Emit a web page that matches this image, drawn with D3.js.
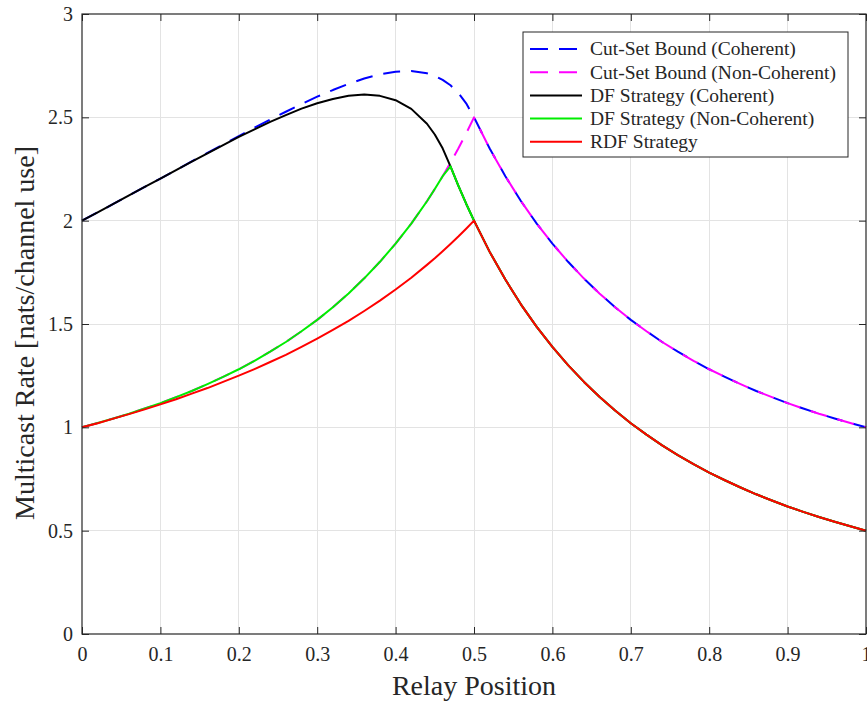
<!DOCTYPE html>
<html>
<head>
<meta charset="utf-8">
<script src="https://cdn.jsdelivr.net/npm/d3@7"></script>
<style>
  body { margin: 0; background: #fff; }
  text { font-family: "Liberation Serif", "Times New Roman", serif; fill: #262626; }
</style>
</head>
<body>
<div id="chart"></div>
<script>
// relay position (x) and the rates
const relayPos = [0, 0.02, 0.04, 0.06, 0.08, 0.10, 0.12, 0.14, 0.16, 0.18, 0.20, 0.22, 0.24, 0.26, 0.28,
  0.30, 0.32, 0.34, 0.36, 0.38, 0.40, 0.42, 0.44, 0.45, 0.46, 0.47, 0.48, 0.49, 0.50,
  0.52, 0.54, 0.56, 0.58, 0.60, 0.62, 0.64, 0.66, 0.68, 0.70, 0.72, 0.74, 0.76, 0.78, 0.80,
  0.82, 0.84, 0.86, 0.88, 0.90, 0.92, 0.94, 0.96, 0.98, 1.00];

const cutSetCoherent = [2.000, 2.040, 2.081, 2.122, 2.163, 2.204, 2.245, 2.287, 2.328, 2.369, 2.409, 2.450, 2.489, 2.527, 2.564,
  2.600, 2.632, 2.662, 2.688, 2.708, 2.721, 2.724, 2.713, 2.700, 2.681, 2.655, 2.618, 2.568, 2.500,
  2.349, 2.215, 2.094, 1.986, 1.889, 1.801, 1.721, 1.648, 1.581, 1.520, 1.465, 1.413, 1.366, 1.322, 1.281,
  1.244, 1.209, 1.176, 1.146, 1.117, 1.091, 1.066, 1.043, 1.021, 1.000];

const cutSetNonCoherent = [1.000, 1.021, 1.043, 1.066, 1.091, 1.117, 1.146, 1.176, 1.209, 1.244, 1.281, 1.322, 1.366, 1.413, 1.465,
  1.520, 1.581, 1.648, 1.721, 1.801, 1.889, 1.986, 2.094, 2.153, 2.215, 2.280, 2.349, 2.422, 2.500,
  2.349, 2.215, 2.094, 1.986, 1.889, 1.801, 1.721, 1.648, 1.581, 1.520, 1.465, 1.413, 1.366, 1.322, 1.281,
  1.244, 1.209, 1.176, 1.146, 1.117, 1.091, 1.066, 1.043, 1.021, 1.000];

const dfCoherent = [2.000, 2.040, 2.081, 2.122, 2.163, 2.204, 2.245, 2.286, 2.326, 2.366, 2.405, 2.442, 2.478, 2.511, 2.542,
  2.568, 2.589, 2.604, 2.610, 2.604, 2.583, 2.541, 2.469, 2.417, 2.350, 2.263, 2.170, 2.082, 2.000,
  1.849, 1.715, 1.594, 1.486, 1.389, 1.301, 1.221, 1.148, 1.081, 1.020, 0.965, 0.913, 0.866, 0.822, 0.781,
  0.744, 0.709, 0.676, 0.646, 0.617, 0.591, 0.566, 0.543, 0.521, 0.500];

const dfNonCoherent = [1.000, 1.021, 1.043, 1.066, 1.091, 1.117, 1.146, 1.176, 1.209, 1.244, 1.281, 1.322, 1.366, 1.413, 1.465,
  1.520, 1.581, 1.648, 1.721, 1.801, 1.889, 1.986, 2.094, 2.153, 2.215, 2.263, 2.170, 2.082, 2.000,
  1.849, 1.715, 1.594, 1.486, 1.389, 1.301, 1.221, 1.148, 1.081, 1.020, 0.965, 0.913, 0.866, 0.822, 0.781,
  0.744, 0.709, 0.676, 0.646, 0.617, 0.591, 0.566, 0.543, 0.521, 0.500];

const rdf = [1.000, 1.020, 1.042, 1.064, 1.087, 1.111, 1.136, 1.163, 1.190, 1.220, 1.250, 1.282, 1.316, 1.351, 1.389,
  1.429, 1.471, 1.515, 1.563, 1.613, 1.667, 1.724, 1.786, 1.818, 1.852, 1.887, 1.923, 1.961, 2.000,
  1.849, 1.715, 1.594, 1.486, 1.389, 1.301, 1.221, 1.148, 1.081, 1.020, 0.965, 0.913, 0.866, 0.822, 0.781,
  0.744, 0.709, 0.676, 0.646, 0.617, 0.591, 0.566, 0.543, 0.521, 0.500];

const xTicks = [0, 0.1, 0.2, 0.3, 0.4, 0.5, 0.6, 0.7, 0.8, 0.9, 1];
const yTicks = [0, 0.5, 1, 1.5, 2, 2.5, 3];

let width = 867,
    height = 704,
    margin = ({ top: 14, right: 1, bottom: 70, left: 82 });

const svg = d3.select("#chart")
    .append("svg")
    .attr("width", width)
    .attr("height", height)
    .attr("viewBox", [0, 0, width, height]);

let x = d3.scaleLinear()
    .domain([0, 1])
    .range([margin.left, width - margin.right]);

let y = d3.scaleLinear()
    .domain([0, 3])
    .range([height - margin.bottom, margin.top]);

// grid
const grid = svg.append("g").attr("shape-rendering", "crispEdges");
grid.selectAll("line.gx")
  .data(xTicks.slice(1, -1))
  .join("line")
    .attr("class", "gx")
    .attr("x1", d => x(d)).attr("x2", d => x(d))
    .attr("y1", y(3)).attr("y2", y(0))
    .attr("stroke", "#e3e3e3");
grid.selectAll("line.gy")
  .data(yTicks.slice(1, -1))
  .join("line")
    .attr("class", "gy")
    .attr("x1", x(0)).attr("x2", x(1))
    .attr("y1", d => y(d)).attr("y2", d => y(d))
    .attr("stroke", "#e3e3e3");

// series, drawn in legend order so red ends on top
const series = [
  { name: "Cut-Set Bound (Coherent)", values: cutSetCoherent, color: "#0000ff", dash: "17,11" },
  { name: "Cut-Set Bound (Non-Coherent)", values: cutSetNonCoherent, color: "#ff00ff", dash: "17,11" },
  { name: "DF Strategy (Coherent)", values: dfCoherent, color: "#000000", dash: null },
  { name: "DF Strategy (Non-Coherent)", values: dfNonCoherent, color: "#00ee00", dash: null },
  { name: "RDF Strategy", values: rdf, color: "#ff0000", dash: null }
];

const line = d3.line()
    .x((d, i) => x(relayPos[i]))
    .y(d => y(d));

svg.append("g")
  .selectAll("path")
  .data(series)
  .join("path")
    .attr("fill", "none")
    .attr("stroke", d => d.color)
    .attr("stroke-width", 2)
    .attr("stroke-dasharray", d => d.dash)
    .attr("stroke-linejoin", "round")
    .attr("d", d => line(d.values));

// axes with inward ticks, MATLAB style box
const axisColor = "#262626";
const fmt = d3.format("~g");

const xAxis = svg.append("g")
    .attr("transform", `translate(0,${y(0)})`)
    .call(d3.axisBottom(x).tickValues(xTicks).tickFormat(fmt).tickSize(-7).tickPadding(13));
const yAxis = svg.append("g")
    .attr("transform", `translate(${x(0)},0)`)
    .call(d3.axisLeft(y).tickValues(yTicks).tickFormat(fmt).tickSize(-7).tickPadding(9));
const xTop = svg.append("g")
    .attr("transform", `translate(0,${y(3)})`)
    .call(d3.axisTop(x).tickValues(xTicks).tickFormat("").tickSize(-7));
const yRight = svg.append("g")
    .attr("transform", `translate(${x(1)},0)`)
    .call(d3.axisRight(y).tickValues(yTicks).tickFormat("").tickSize(-7));

[xAxis, yAxis, xTop, yRight].forEach(g => {
  g.select(".domain").remove();
  g.selectAll(".tick line").attr("stroke", axisColor).attr("stroke-width", 1);
  g.selectAll(".tick text")
    .attr("fill", axisColor)
    .style("font-family", '"Liberation Serif", "Times New Roman", serif')
    .style("font-size", "20px");
});

svg.append("rect")
    .attr("x", x(0)).attr("y", y(3))
    .attr("width", x(1) - x(0)).attr("height", y(0) - y(3))
    .attr("fill", "none")
    .attr("stroke", axisColor)
    .attr("stroke-width", 1.2);

// axis labels
svg.append("text")
    .attr("text-anchor", "middle")
    .attr("x", (x(0) + x(1)) / 2)
    .attr("y", 695)
    .style("font-size", "28px")
    .text("Relay Position");

svg.append("text")
    .attr("text-anchor", "middle")
    .attr("transform", `translate(34,333) rotate(-90)`)
    .style("font-size", "28px")
    .text("Multicast Rate [nats/channel use]");

// legend
const legend = svg.append("g")
    .attr("transform", "translate(523,32)");

legend.append("rect")
    .attr("width", 325)
    .attr("height", 125)
    .attr("fill", "#fff")
    .attr("stroke", axisColor)
    .attr("stroke-width", 1);

const rows = legend.selectAll("g.row")
  .data(series)
  .join("g")
    .attr("class", "row")
    .attr("transform", (d, i) => `translate(0,${17 + i * 23.2})`);

rows.append("line")
    .attr("x1", 7).attr("x2", 59)
    .attr("stroke", d => d.color)
    .attr("stroke-width", 2)
    .attr("stroke-dasharray", d => d.dash ? "18,11" : null);

rows.append("text")
    .attr("x", 67)
    .attr("dy", "0.33em")
    .style("font-size", "19.5px")
    .text(d => d.name);
</script>
</body>
</html>
